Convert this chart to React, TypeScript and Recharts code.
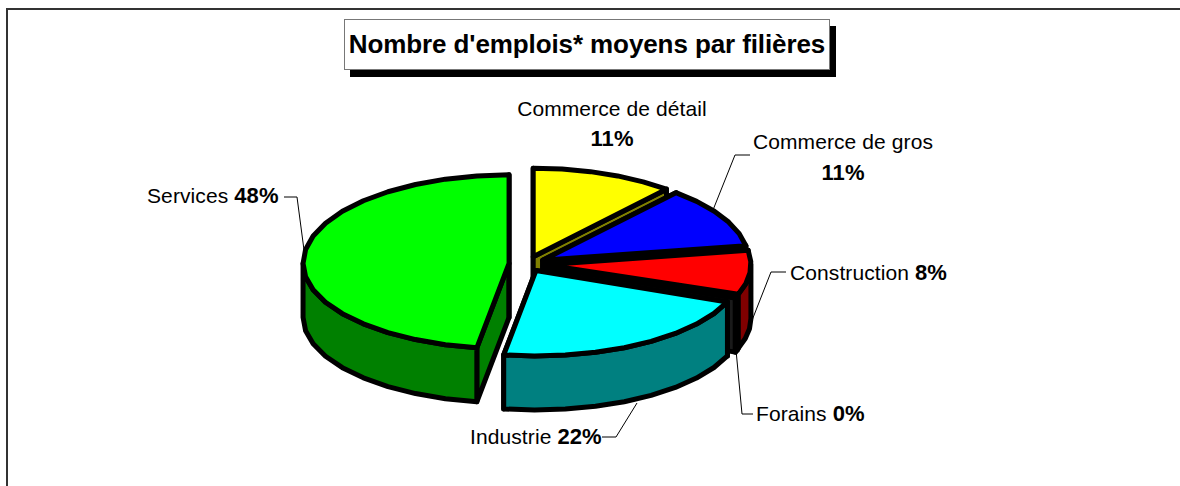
import React from 'react';
import { PieChart, Pie } from 'recharts';

const categories = ['Commerce de détail', 'Commerce de gros', 'Construction', 'Forains', 'Industrie', 'Services'];
const shares = [11.2, 11.2, 8.2, 0.4, 21.5, 47.5];
const percentLabels = ['11%', '11%', '8%', '0%', '22%', '48%'];
const topColors = ['#ffff00', '#0000ff', '#ff0000', '#333333', '#00ffff', '#00ff00'];
const sideColors = ['#808000', '#000080', '#800000', '#1a1a1a', '#008080', '#008000'];

const data = categories.map((name, i) => ({
  name,
  value: shares[i],
  percent: percentLabels[i],
  fill: topColors[i],
  side: sideColors[i],
}));

// look of the fake 3D
const SQUASH_BACK = 0.43;
const SQUASH_FRONT = 0.415;
const DEPTH = 54;
const EXPLODE = 18;
const FONT = '"Liberation Sans", Arial, sans-serif';

const Slice3D = (props: any) => {
  const { cx, cy, outerRadius, startAngle, endAngle, fill, payload } = props;
  const a0 = Math.min(90 - startAngle, 90 - endAngle);
  const a1 = Math.max(90 - startAngle, 90 - endAngle);
  const squash = (c: number) => (c > 0 ? SQUASH_BACK : SQUASH_FRONT);
  const mid = ((a0 + a1) / 2) * (Math.PI / 180);
  const ox = cx + EXPLODE * Math.sin(mid);
  const oy = cy - EXPLODE * squash(Math.cos(mid)) * Math.cos(mid);
  const pt = (deg: number, r = outerRadius) => {
    const t = (deg * Math.PI) / 180;
    return [ox + r * Math.sin(t), oy - r * squash(Math.cos(t)) * Math.cos(t)];
  };
  const arc = (from: number, to: number) => {
    const pts: number[][] = [];
    const n = Math.max(1, Math.ceil((to - from) / 9));
    for (let i = 0; i <= n; i++) pts.push(pt(from + ((to - from) * i) / n));
    return pts;
  };
  const str = (pts: number[][]) => pts.map((p) => p.join(',')).join(' ');
  const drop = (pts: number[][]) => pts.map((p) => [p[0], p[1] + DEPTH]);
  const tip = [ox, oy];
  const side = payload?.side ?? '#000';

  const wall = (deg: number) => {
    const p = [tip, pt(deg)];
    return str([...p, ...drop(p).reverse()]);
  };
  const frontFrom = Math.max(a0, 90);
  const frontTo = Math.min(a1, 270);
  const rim = frontFrom < frontTo ? arc(frontFrom, frontTo) : null;

  return (
    <g stroke="#000" strokeWidth={5} strokeLinejoin="round">
      <polygon points={wall(a0)} fill={side} />
      <polygon points={wall(a1)} fill={side} />
      {rim && <polygon points={str([...rim, ...drop(rim).reverse()])} fill={side} />}
      <polygon points={str([tip, ...arc(a0, a1)])} fill={fill} />
    </g>
  );
};

// where each caption sits, and its leader line
const captionLayout: Record<string, { lines: { x: number; y: number; anchor: string; name?: boolean; pct?: boolean }[]; leader?: string }> = {
  'Commerce de détail': {
    lines: [
      { x: 612, y: 116, anchor: 'middle', name: true },
      { x: 612, y: 146, anchor: 'middle', pct: true },
    ],
  },
  'Commerce de gros': {
    lines: [
      { x: 843, y: 149, anchor: 'middle', name: true },
      { x: 843, y: 180, anchor: 'middle', pct: true },
    ],
    leader: '750,155 735,155 713,210',
  },
  Construction: {
    lines: [{ x: 790, y: 280, anchor: 'start', name: true, pct: true }],
    leader: '786,272 771,272 749,328',
  },
  Forains: {
    lines: [{ x: 756, y: 421, anchor: 'start', name: true, pct: true }],
    leader: '736,350 742,414 753,414',
  },
  Industrie: {
    lines: [{ x: 470, y: 444, anchor: 'start', name: true, pct: true }],
    leader: '602,437 616,437 637,403',
  },
  Services: {
    lines: [{ x: 147, y: 203, anchor: 'start', name: true, pct: true }],
    leader: '284,197 297,197 304,250',
  },
};

const Caption = (props: any) => {
  const entry = data[props.index];
  if (!entry) return null;
  const layout = captionLayout[entry.name];
  return (
    <g>
      {layout.leader && <polyline points={layout.leader} fill="none" stroke="#000" strokeWidth={1} />}
      {layout.lines.map((l, i) => (
        <text key={i} x={l.x} y={l.y} textAnchor={l.anchor as any} fontFamily={FONT} fontSize={21} fill="#000" letterSpacing={0.1}>
          {l.name && entry.name}
          {l.name && l.pct && ' '}
          {l.pct && <tspan fontWeight="bold" fontSize={22}>{entry.percent}</tspan>}
        </text>
      ))}
    </g>
  );
};

export default function App() {
  return (
    <div style={{ position: 'absolute', left: 0, top: 0, width: 1180, height: 486, background: '#fff', overflow: 'hidden' }}>
      <div style={{ position: 'absolute', left: 6, top: 8, width: 1200, height: 500, border: '2px solid #333' }} />
      <div
        style={{
          position: 'absolute',
          left: 344,
          top: 19,
          width: 484,
          height: 49,
          background: '#fff',
          border: '1px solid #777',
          boxShadow: '6px 7px 0 #000',
          fontFamily: FONT,
          fontWeight: 'bold',
          fontSize: 26,
          letterSpacing: -0.1,
          lineHeight: '49px',
          textAlign: 'center',
          whiteSpace: 'nowrap',
        }}
      >
        Nombre d'emplois* moyens par filières
      </div>
      <div style={{ position: 'absolute', left: 0, top: 0 }}>
        <PieChart width={1180} height={486} margin={{ top: 0, right: 0, bottom: 0, left: 0 }}>
          <Pie
            data={data}
            dataKey="value"
            nameKey="name"
            cx={527}
            cy={264}
            innerRadius={0}
            outerRadius={206}
            startAngle={90}
            endAngle={-270}
            stroke="none"
            isAnimationActive={false}
            shape={Slice3D}
            label={Caption}
            labelLine={false}
          />
        </PieChart>
      </div>
    </div>
  );
}
